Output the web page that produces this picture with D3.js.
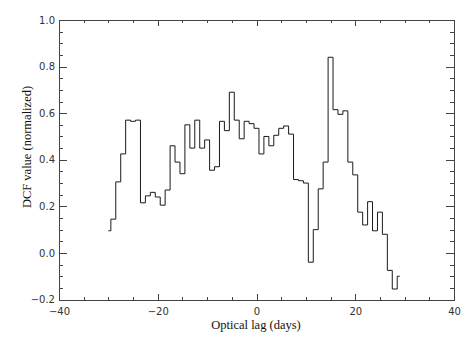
<!DOCTYPE html>
<html>
<head>
<meta charset="utf-8">
<script src="https://cdn.jsdelivr.net/npm/d3@7"></script>
<style>
  body { margin: 0; background: #fff; }
  svg { display: block; }
  .tick text { font-family: "DejaVu Sans", sans-serif; font-size: 10px; fill: #333; }
  .axis path, .axis line { stroke: #444; shape-rendering: crispEdges; }
  .title { font-family: "Liberation Serif", "Times New Roman", serif; font-size: 12.5px; fill: #111; }
</style>
</head>
<body>
<svg id="chart" width="473" height="339"></svg>
<script>
// --- Data ---

const lags = [
  -30, -29, -28, -27, -26, -25, -24, -23, -22, -21,
  -20, -19, -18, -17, -16, -15, -14, -13, -12, -11,
  -10, -9, -8, -7, -6, -5, -4, -3, -2, -1,
  0, 1, 2, 3, 4, 5, 6, 7, 8, 9,
  10, 11, 12, 13, 14, 15, 16, 17, 18, 19,
  20, 21, 22, 23, 24, 25, 26, 27, 28, 29
];

const dcf = [
  0.095, 0.145, 0.305, 0.425, 0.57, 0.565, 0.57, 0.215, 0.245, 0.26,
  0.24, 0.205, 0.27, 0.46, 0.39, 0.34, 0.55, 0.45, 0.57, 0.45,
  0.485, 0.355, 0.37, 0.565, 0.525, 0.69, 0.57, 0.49, 0.565, 0.555,
  0.535, 0.425, 0.50, 0.46, 0.505, 0.535, 0.545, 0.51, 0.315, 0.31,
  0.30, -0.04, 0.10, 0.275, 0.39, 0.84, 0.615, 0.595, 0.61, 0.39,
  0.335, 0.175, 0.12, 0.22, 0.095, 0.175, 0.08, -0.075, -0.155, -0.10
];

const xMajorTicks = [-40, -20, 0, 20, 40];
const xMinorTicks = [-35, -30, -25, -15, -10, -5, 5, 10, 15, 25, 30, 35];
const yMajorTicks = [-0.2, 0.0, 0.2, 0.4, 0.6, 0.8, 1.0];
const yMinorTicks = [-0.15, -0.1, -0.05, 0.05, 0.1, 0.15, 0.25, 0.3, 0.35,
  0.45, 0.5, 0.55, 0.65, 0.7, 0.75, 0.85, 0.9, 0.95];

// --- Layout ---

const svg = d3.select('#chart');
const plotLeft = 59, plotRight = 454, plotTop = 20, plotBottom = 299.5;

const x = d3.scaleLinear().domain([-40, 40]).range([plotLeft, plotRight]);
const y = d3.scaleLinear().domain([-0.2, 1.0]).range([plotBottom, plotTop]);

const fmtX = d3.format('d');
const fmtY = d3.format('.1f');

// --- Axes (ticks point inward, box on all four sides) ---

function addAxis(axis, tx, ty) {
  return svg.append('g')
    .attr('class', 'axis')
    .attr('transform', `translate(${tx},${ty})`)
    .call(axis);
}

// bottom
addAxis(d3.axisBottom(x).tickValues(xMinorTicks).tickSize(-3).tickFormat(''), 0, plotBottom);
addAxis(d3.axisBottom(x).tickValues(xMajorTicks).tickSizeInner(-6).tickSizeOuter(0)
  .tickPadding(8).tickFormat(fmtX), 0, plotBottom);
// top
addAxis(d3.axisTop(x).tickValues(xMinorTicks).tickSize(-3).tickFormat(''), 0, plotTop);
addAxis(d3.axisTop(x).tickValues(xMajorTicks).tickSizeInner(-6).tickSizeOuter(0)
  .tickFormat(''), 0, plotTop);
// left
addAxis(d3.axisLeft(y).tickValues(yMinorTicks).tickSize(-4).tickFormat(''), plotLeft, 0);
addAxis(d3.axisLeft(y).tickValues(yMajorTicks).tickSizeInner(-8).tickSizeOuter(0)
  .tickPadding(4).tickFormat(fmtY), plotLeft, 0);
// right
addAxis(d3.axisRight(y).tickValues(yMinorTicks).tickSize(-4).tickFormat(''), plotRight, 0);
addAxis(d3.axisRight(y).tickValues(yMajorTicks).tickSizeInner(-8).tickSizeOuter(0)
  .tickFormat(''), plotRight, 0);

svg.selectAll('.axis .domain').attr('stroke', '#444');

// --- Histogram-style step line ---

const line = d3.line()
  .x((d, i) => x(lags[i]))
  .y(d => y(d))
  .curve(d3.curveStep);

svg.append('path')
  .datum(dcf)
  .attr('d', line)
  .attr('fill', 'none')
  .attr('stroke', '#1a1a1a')
  .attr('stroke-width', 1);

// --- Titles ---

svg.append('text')
  .attr('class', 'title')
  .attr('x', 256)
  .attr('y', 329)
  .attr('text-anchor', 'middle')
  .text('Optical lag (days)');

svg.append('text')
  .attr('class', 'title')
  .attr('transform', 'translate(31,147) rotate(-90)')
  .attr('text-anchor', 'middle')
  .text('DCF value (normalized)');
</script>
</body>
</html>
